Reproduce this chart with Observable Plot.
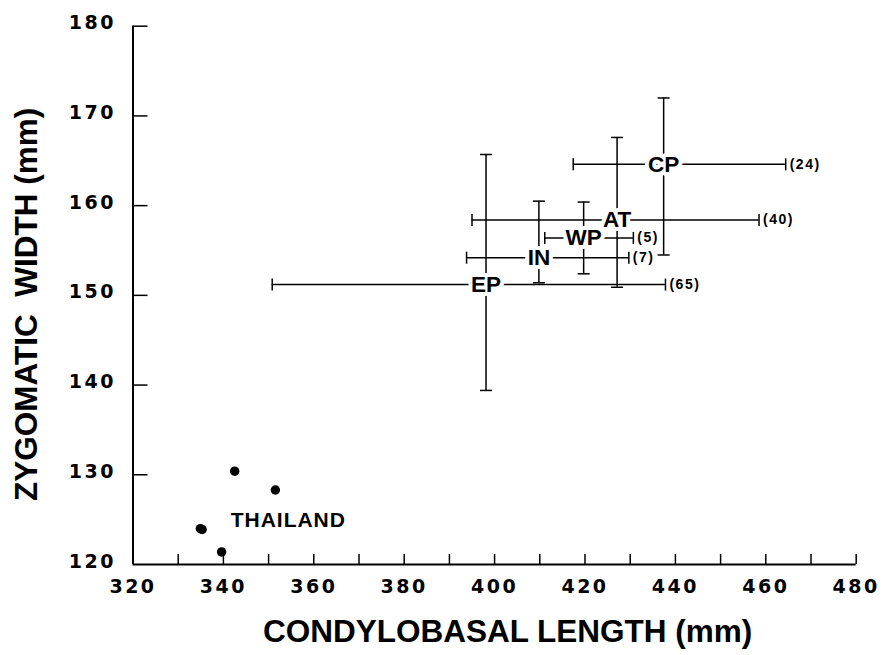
<!DOCTYPE html>
<html><head><meta charset="utf-8">
<script src="https://cdn.jsdelivr.net/npm/d3@7"></script>
<script src="https://cdn.jsdelivr.net/npm/@observablehq/plot@0.6"></script>
<style>body{margin:0;background:#fff}</style>
</head><body><div id="chart"></div>
<script>
// Group summaries (mean, range) for condylobasal length (x) and zygomatic width (y)
const groupNames = ["CP", "AT", "WP", "IN", "EP"];
const meanX = [437.4, 427.1, 419.7, 409.8, 398.1];
const meanY = [164.6, 158.4, 156.4, 154.2, 151.2];
const minX  = [417.4, 395.0, 411.1, 393.8, 350.8];
const maxX  = [464.4, 458.5, 430.7, 429.7, 437.8];
const minY  = [154.5, 150.9, 152.4, 151.4, 139.4];
const maxY  = [172.0, 167.6, 160.4, 160.5, 165.7];
const sampleN = [24, 40, 5, 7, 65];

// Thailand specimens
const thaiX = [351.5, 342.5, 334.9, 335.3, 339.6];
const thaiY = [128.3, 130.4, 124.0, 123.9, 121.4];
const thaiLabel = "THAILAND";

// Ticks
const xTickMarks = [330, 340, 350, 360, 370, 380, 390, 400, 410, 420, 430, 440, 450, 460, 470, 480];
const xTickLabels = [320, 340, 360, 380, 400, 420, 440, 460, 480];
const yTickMarks = [130, 140, 150, 160, 170, 180];
const yTickLabels = [120, 130, 140, 150, 160, 170, 180];
const xTitle = "CONDYLOBASAL LENGTH (mm)";
const yTitle = "ZYGOMATIC\u00a0\u00a0WIDTH (mm)";

const groups = groupNames.map((name, i) => ({
  name, mx: meanX[i], my: meanY[i], xmin: minX[i], xmax: maxX[i],
  ymin: minY[i], ymax: maxY[i], n: sampleN[i]
}));
const thai = thaiX.map((x, i) => ({x, y: thaiY[i]}));

const vbar = {draw(ctx, size) { const h = Math.sqrt(size / Math.PI); ctx.moveTo(0, -h); ctx.lineTo(0, h); }};
const hbar = {draw(ctx, size) { const h = Math.sqrt(size / Math.PI); ctx.moveTo(-h, 0); ctx.lineTo(h, 0); }};

const tickFont = {fontFamily: "DejaVu Sans", fontWeight: "bold", fontSize: 19};
const lab = {fontFamily: "Liberation Sans", fontWeight: "bold"};

const chart = Plot.plot({
  width: 883, height: 655,
  marginLeft: 132.5, marginRight: 27.3, marginTop: 25.7, marginBottom: 91,
  x: {domain: [320, 480]},
  y: {domain: [120, 180]},
  style: {background: "white", color: "black"},
  marks: [
    Plot.ruleX([320], {strokeWidth: 2}),
    Plot.ruleY([120], {strokeWidth: 2}),
    Plot.axisX({ticks: xTickMarks, tickSize: -10, tickFormat: () => "", label: null, strokeWidth: 1.5}),
    Plot.axisX({ticks: xTickLabels, tickSize: 0, tickPadding: 15, label: null, tickFormat: d => String(d), ...tickFont}),
    Plot.axisY({ticks: yTickMarks, tickSize: -15, tickFormat: () => "", label: null, strokeWidth: 1.5}),
    Plot.axisY({ticks: yTickLabels, tickSize: 0, tickPadding: 17, dy: -3, label: null, tickFormat: d => String(d), ...tickFont}),
    Plot.ruleY(groups, {y: "my", x1: "xmin", x2: "xmax", strokeWidth: 1.5}),
    Plot.ruleX(groups, {x: "mx", y1: "ymin", y2: "ymax", strokeWidth: 1.5}),
    Plot.dot(groups, {x: "xmin", y: "my", symbol: vbar, r: 6, fill: "none", stroke: "black", strokeWidth: 1.5}),
    Plot.dot(groups, {x: "xmax", y: "my", symbol: vbar, r: 6, fill: "none", stroke: "black", strokeWidth: 1.5}),
    Plot.dot(groups, {x: "mx", y: "ymin", symbol: hbar, r: 6, fill: "none", stroke: "black", strokeWidth: 1.5}),
    Plot.dot(groups, {x: "mx", y: "ymax", symbol: hbar, r: 6, fill: "none", stroke: "black", strokeWidth: 1.5}),
    Plot.text(groups, {x: "mx", y: "my", text: "name", fontSize: 22.5, ...lab, fill: "black", stroke: "white", strokeWidth: 8, paintOrder: "stroke"}),
    Plot.text(groups, {x: "xmax", y: "my", text: d => `(${d.n})`, textAnchor: "start", dx: 4, fontSize: 14, ...lab, fill: "black"}),
    Plot.dot(thai, {x: "x", y: "y", r: 4.7, fill: "black"}),
    Plot.text([thaiLabel], {x: 341.6, y: 124.9, text: d => d, textAnchor: "start", fontSize: 21, ...lab, fill: "black"}),
    Plot.text([xTitle], {frameAnchor: "bottom", textAnchor: "middle", lineAnchor: "middle", dy: 67, dx: 13, text: d => d, fontSize: 31.5, ...lab, fill: "black"}),
    Plot.text([yTitle], {frameAnchor: "left", textAnchor: "middle", lineAnchor: "middle", dx: -106, dy: 9, rotate: -90, text: d => d, fontSize: 31.5, ...lab, fill: "black"})
  ]
});
document.getElementById("chart").appendChild(chart);
const svg = d3.select(chart);
svg.selectAll('g[aria-label="x-axis tick label"] text, g[aria-label="y-axis tick label"] text').style("letter-spacing", "2.5px");
svg.selectAll('g[aria-label="text"] text').filter(function() { return this.textContent.startsWith("("); }).style("letter-spacing", "1.5px");
svg.selectAll('g[aria-label="text"] text').filter(function() { return this.textContent === thaiLabel; }).style("letter-spacing", "1px");
</script>
</body></html>
